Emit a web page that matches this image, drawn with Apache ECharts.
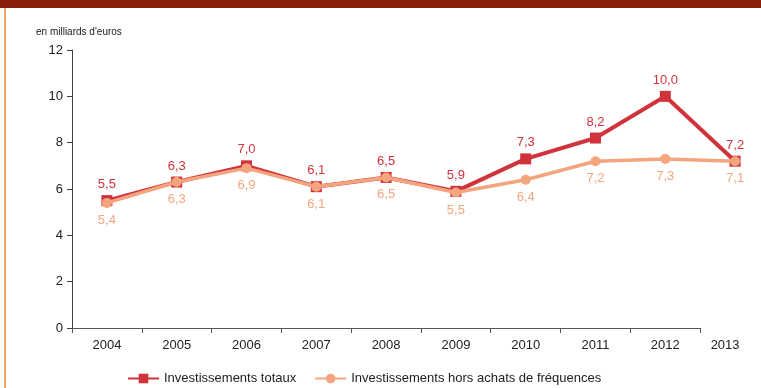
<!DOCTYPE html>
<html>
<head>
<meta charset="utf-8">
<script src="https://cdn.jsdelivr.net/npm/echarts@6/dist/echarts.min.js"></script>
<style>
html,body{margin:0;padding:0;background:#fff;overflow:hidden;}
#c{width:780px;height:388px;}
</style>
</head>
<body>
<div id="c"></div>
<script>
var years = ['2004','2005','2006','2007','2008','2009','2010','2011','2012','2013'];
var axisYears = ['2004','2005','2006','2007','2008','2009','2010','2011','2012'];
var totalValues = [5.5, 6.3, 7.0, 6.1, 6.5, 5.9, 7.3, 8.2, 10.0, 7.2];
var totalLabels = ['5,5','6,3','7,0','6,1','6,5','5,9','7,3','8,2','10,0','7,2'];
var horsValues = [5.4, 6.3, 6.9, 6.1, 6.5, 5.85, 6.4, 7.2, 7.3, 7.2];
var horsLabels = ['5,4','6,3','6,9','6,1','6,5','5,5','6,4','7,2','7,3','7,1'];
var yTicks = {min: 0, max: 12, interval: 2};

var RED = '#D1333A';
var ORANGE = '#F4A57E';
var FONT = '"Liberation Sans", Arial, sans-serif';

var chart = echarts.init(document.getElementById('c'), null, {renderer: 'canvas'});
chart.setOption({
  animation: false,
  textStyle: {fontFamily: FONT},
  graphic: [
    {type: 'rect', left: 0, top: 0, shape: {width: 780, height: 8}, style: {fill: '#8A1E0C'}},
    {type: 'rect', left: 4, top: 8, shape: {width: 2, height: 380}, style: {fill: '#F2A06C'}},
    {type: 'text', left: 36, top: 27, style: {text: "en milliards d'euros", fontSize: 10, fill: '#222', fontFamily: FONT}}
  ],
  legend: {
    left: 122, top: 367,
    itemWidth: 31, itemHeight: 12, itemGap: 18,
    textStyle: {fontSize: 13, color: '#222', fontFamily: FONT},
    data: ['Investissements totaux', 'Investissements hors achats de fréquences']
  },
  grid: [
    {left: 72, width: 698, top: 50, bottom: 60},
    {left: 72, width: 628, top: 50, bottom: 60}
  ],
  xAxis: [
    {
      type: 'category', gridIndex: 0, data: years, boundaryGap: true,
      axisLine: {show: false}, axisTick: {show: false},
      axisLabel: {
        fontSize: 13, color: '#222', margin: 11, interval: 0,
        formatter: function (v) { return v === '2013' ? '{s|' + v + '}' : v; },
        rich: {s: {fontSize: 13, color: '#222', padding: [0, 20, 0, 0]}}
      }
    },
    {
      type: 'category', gridIndex: 1, data: axisYears, boundaryGap: true,
      axisLine: {show: true, lineStyle: {color: '#555', width: 1}},
      axisTick: {show: true, length: 5, lineStyle: {color: '#555'}},
      axisLabel: {show: false}
    }
  ],
  yAxis: [
    {
      type: 'value', gridIndex: 0, min: yTicks.min, max: yTicks.max, interval: yTicks.interval,
      axisLine: {show: true, lineStyle: {color: '#444', width: 1}},
      axisTick: {show: true, length: 5, lineStyle: {color: '#444'}},
      axisLabel: {fontSize: 13, color: '#222', margin: 9},
      splitLine: {show: false}
    },
    {
      type: 'value', gridIndex: 1, min: yTicks.min, max: yTicks.max, interval: yTicks.interval,
      show: false, splitLine: {show: false}
    }
  ],
  series: [
    {
      name: 'Investissements totaux', type: 'line', xAxisIndex: 0, yAxisIndex: 0,
      data: totalValues, clip: false,
      symbol: 'rect', symbolSize: 11,
      itemStyle: {color: RED},
      lineStyle: {color: RED, width: 4},
      z: 2,
      label: {
        show: true, position: 'top', distance: 4, fontSize: 13, color: RED,
        formatter: function (p) { return totalLabels[p.dataIndex]; }
      }
    },
    {
      name: 'Investissements hors achats de fréquences', type: 'line', xAxisIndex: 0, yAxisIndex: 0,
      data: horsValues, clip: false,
      symbol: 'circle', symbolSize: 10,
      itemStyle: {color: ORANGE},
      lineStyle: {color: ORANGE, width: 3.5},
      z: 3,
      label: {
        show: true, position: 'bottom', distance: 6, fontSize: 13, color: ORANGE,
        formatter: function (p) { return horsLabels[p.dataIndex]; }
      }
    }
  ]
});
</script>
</body>
</html>
